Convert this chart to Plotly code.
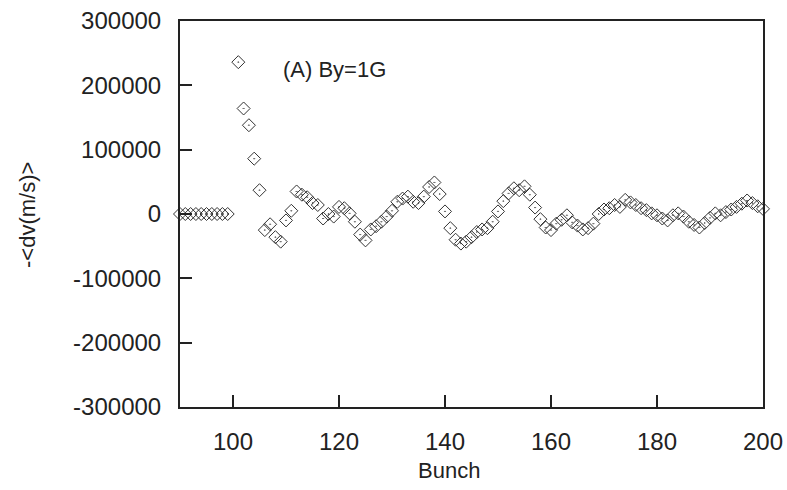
import plotly.graph_objects as go

bunch = list(range(90, 100)) + list(range(101, 201))
dv = [0] * 10 + [
    236000, 164000, 138000, 86000, 37000, -25000, -16000, -36000, -43000, -10000,
    5000, 35000, 30000, 26000, 17000, 14000, -7000, 0, -4000, 11000,
    9000, 1000, -12000, -32000, -41000, -24000, -19000, -12000, -4000, 5000,
    19000, 24000, 27000, 19000, 17000, 27000, 42000, 49000, 31000, 4000,
    -22000, -40000, -46000, -43000, -36000, -28000, -24000, -22000, -12000, 4000,
    20000, 32000, 40000, 37000, 43000, 30000, 10000, -8000, -21000, -25000,
    -15000, -9000, -2000, -13000, -18000, -24000, -22000, -15000, 0, 7000,
    9000, 14000, 11000, 22000, 18000, 14000, 9000, 6000, 1000, -2000,
    -7000, -10000, -2000, 1000, -4000, -12000, -17000, -21000, -14000, -6000,
    1000, -2000, 3000, 7000, 11000, 16000, 21000, 17000, 12000, 8000,
]

x_ticks = [100, 120, 140, 160, 180, 200]
y_ticks = [-300000, -200000, -100000, 0, 100000, 200000, 300000]

FONT = "Liberation Sans, Arial, sans-serif"
INK = "#222222"

W, H = 787, 490
ML, MR, MT, MB = 180, 24, 21, 83
PW, PH = W - ML - MR, H - MT - MB

fig = go.Figure()
fig.add_trace(go.Scatter(
    x=bunch, y=dv, mode="markers",
    marker=dict(symbol="diamond-open-dot", size=10, color="#333333",
                line=dict(width=1, color="#333333")),
    showlegend=False, cliponaxis=False,
))

fig.add_annotation(x=109, y=224000, xref="x", yref="y", text="(A) By=1G",
                   showarrow=False, xanchor="left", yanchor="middle",
                   font=dict(family=FONT, size=22, color=INK))

# axis titles placed as annotations (paper coords relative to plot area)
fig.add_annotation(x=(449 - ML) / PW, y=(H - MB - 471) / PH, xref="paper", yref="paper",
                   text="Bunch", showarrow=False, xanchor="center", yanchor="middle",
                   font=dict(family=FONT, size=22, color=INK))
fig.add_annotation(x=(27 - ML) / PW, y=(H - MB - 215) / PH,
                   xref="paper", yref="paper", text="-<dv(m/s)>", textangle=-90,
                   showarrow=False, xanchor="center", yanchor="middle",
                   font=dict(family=FONT, size=22, color=INK))

axis_common = dict(
    showline=True, linecolor=INK, linewidth=2, mirror=True,
    ticks="inside", ticklen=12, tickwidth=2, tickcolor=INK,
    showgrid=False, zeroline=False, automargin=False,
    tickfont=dict(family=FONT, size=24, color=INK),
    ticklabelstandoff=12,
)

fig.update_xaxes(range=[90, 200], tickvals=x_ticks, **axis_common)
fig.update_yaxes(range=[-300000, 300000], tickvals=y_ticks,
                 ticktext=[str(v) for v in y_ticks], **axis_common)

fig.update_layout(
    width=W, height=H,
    margin=dict(l=ML, r=MR, t=MT, b=MB),
    paper_bgcolor="white", plot_bgcolor="white",
)

fig.write_html("out.html")
